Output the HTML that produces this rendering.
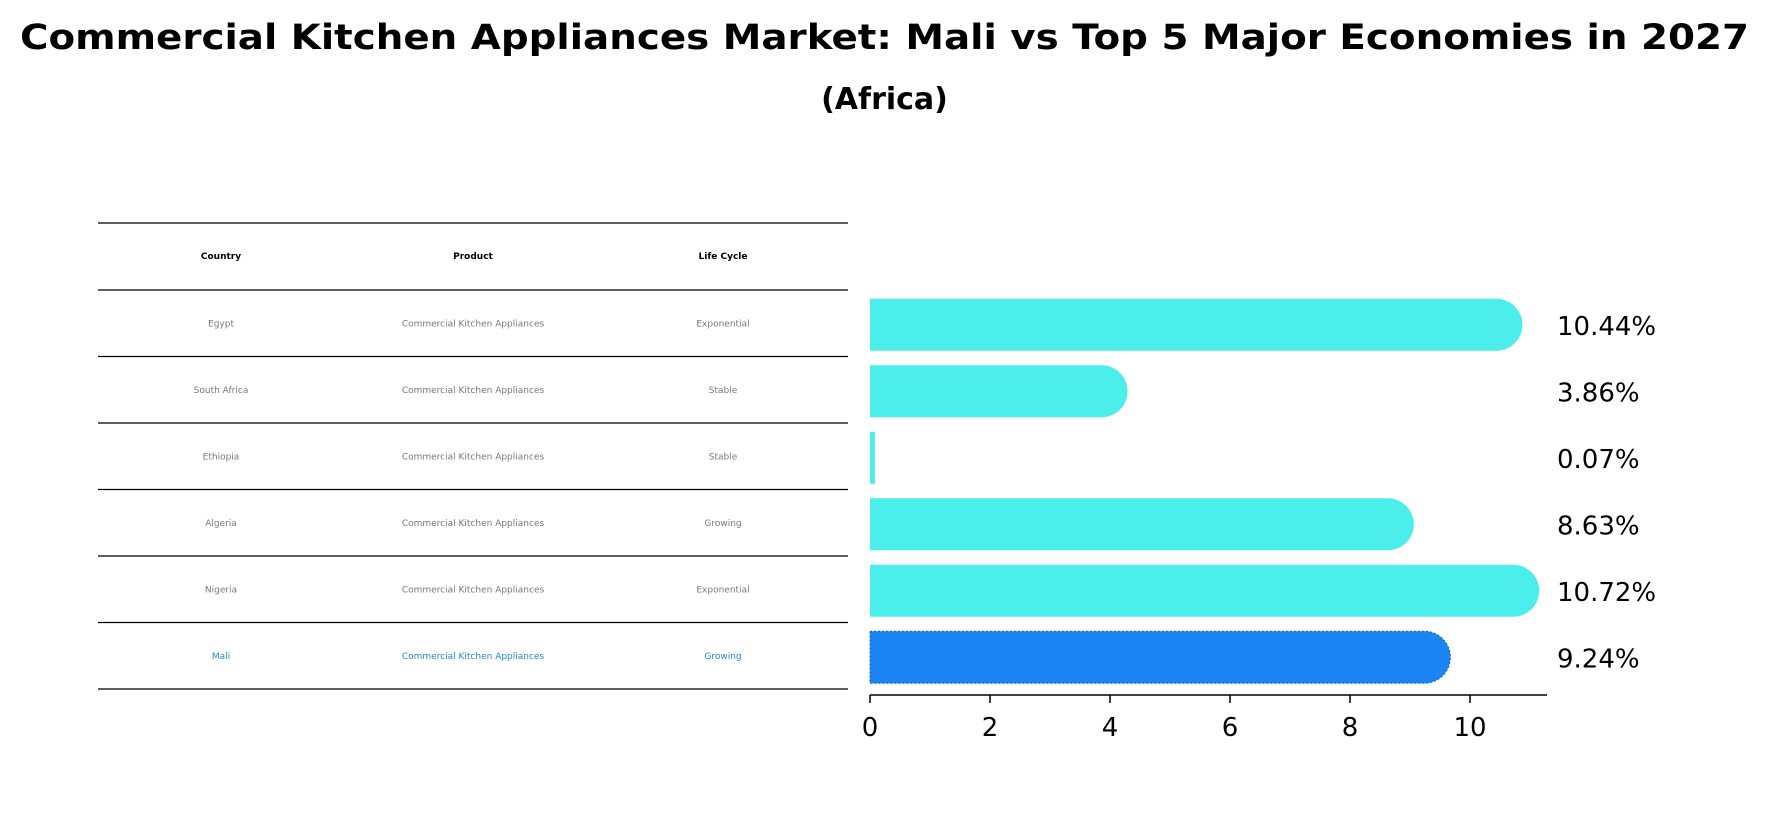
<!DOCTYPE html>
<html><head><meta charset="utf-8"><style>
body{margin:0;background:#fff;}
svg{display:block;font-family:"DejaVu Sans","Liberation Sans",sans-serif;}
</style></head><body>
<svg id="chart" width="1769" height="823" viewBox="0 0 1769 823">
<text x="884.5" y="49" text-anchor="middle" font-size="35" font-weight="bold" textLength="1729" lengthAdjust="spacingAndGlyphs">Commercial Kitchen Appliances Market: Mali vs Top 5 Major Economies in 2027</text>
<text x="884.5" y="109" text-anchor="middle" font-size="30" font-weight="bold">(Africa)</text>
<g id="table"></g>
<g id="bars"></g>
<g id="axis"></g>
</svg>
<script>
const countries = ["Egypt","South Africa","Ethiopia","Algeria","Nigeria","Mali"];
const products = ["Commercial Kitchen Appliances","Commercial Kitchen Appliances","Commercial Kitchen Appliances","Commercial Kitchen Appliances","Commercial Kitchen Appliances","Commercial Kitchen Appliances"];
const lifeCycles = ["Exponential","Stable","Stable","Growing","Exponential","Growing"];
const values = [10.44, 3.86, 0.07, 8.63, 10.72, 9.24];
const xTicks = [0, 2, 4, 6, 8, 10];
const headers = ["Country","Product","Life Cycle"];

const NS = "http://www.w3.org/2000/svg";
function mk(tag, attrs, parent){const e=document.createElementNS(NS,tag);for(const k in attrs)e.setAttribute(k,attrs[k]);parent.appendChild(e);return e;}
const x0 = 870, unit = 60;
function xs(v){return x0 + v*unit;}
const rowTop = 290, rowH = 66.5;
function yc(i){return rowTop + rowH*i + rowH/2 + 1.5;}

// table
const table = document.getElementById('table');
const colX = [221, 473, 723];
const lineYs = [223];
for(let i=0;i<=countries.length;i++) lineYs.push(rowTop + rowH*i);
lineYs.forEach((y,i)=>{
  const l = mk('line',{x1:98,x2:848,y1:y,y2:y,stroke:'#000','stroke-width':1.3},table);
  
  
});
headers.forEach((h,j)=>{
  const t = mk('text',{x:colX[j],y:259,'text-anchor':'middle','font-size':9,'font-weight':'bold',fill:'#000'},table);
  t.textContent=h;
  
  
});
countries.forEach((c,i)=>{
  const col = c==="Mali" ? '#1f86d6' : '#777';
  [c, products[i], lifeCycles[i]].forEach((s,j)=>{
    const t = mk('text',{x:colX[j],y:rowTop+rowH*i+rowH/2+3,'text-anchor':'middle','font-size':9,fill:col},table);
    t.textContent=s;
    
    
  });
});

// bars
const bars = document.getElementById('bars');
const bh = 52, r = 26;
values.forEach((v,i)=>{
  const isMali = countries[i]==="Mali";
  const fill = isMali ? '#1a84f2' : '#4beeea';
  const cy = yc(i), top = cy-bh/2, xe = xs(v);
  let d;
  if (xe - x0 > r) {
    d = `M${x0},${top} L${xe},${top} A${r},${r} 0 0 1 ${xe},${top+bh} L${x0},${top+bh} Z`;
  } else {
    const w = Math.max(xe - x0, 5);
    d = `M${x0},${top} h${w} v${bh} h${-w} Z`;
  }
  const p = mk('path',{d:d,fill:fill},bars);
  if(isMali){p.setAttribute('stroke','#1565c0');p.setAttribute('stroke-dasharray','2 2');p.setAttribute('stroke-width','1');}
  
  
  const t = mk('text',{x:1557,y:cy+10,'font-size':26,fill:'#000'},bars);
  t.textContent = v.toFixed(2)+'%';
  
  
});

// axis
const axis = document.getElementById('axis');
const ay = 695;
const al = mk('line',{x1:x0,x2:1547,y1:ay,y2:ay,stroke:'#000','stroke-width':1.5},axis);


xTicks.forEach(v=>{
  const tk = mk('line',{x1:xs(v),x2:xs(v),y1:ay,y2:ay+8,stroke:'#000','stroke-width':1.5},axis);
  
  
  const t = mk('text',{x:xs(v),y:736,'text-anchor':'middle','font-size':26,fill:'#000'},axis);
  t.textContent = String(v);
  
  
});
</script>
</body></html>
